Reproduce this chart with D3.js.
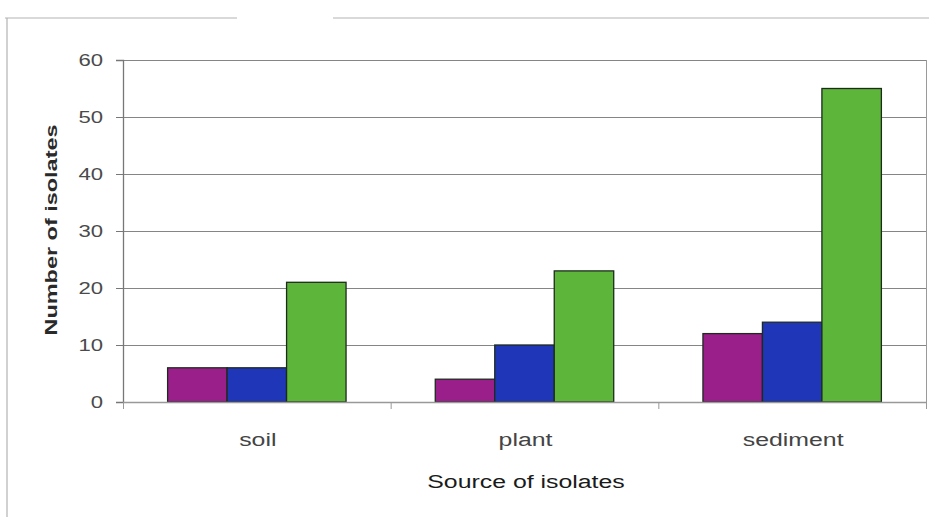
<!DOCTYPE html>
<html>
<head>
<meta charset="utf-8">
<script src="https://cdn.jsdelivr.net/npm/d3@7"></script>
<style>
  html, body { margin: 0; padding: 0; background: #fff; }
  svg { display: block; font-family: "Liberation Sans", Arial, sans-serif; }
</style>
</head>
<body>
<svg id="chart" width="929" height="517"></svg>
<script>
// Isolates counted per source, one series per colour group
const categories = ["soil", "plant", "sediment"];
const seriesMagenta = [6, 4, 12];
const seriesBlue = [6, 10, 14];
const seriesGreen = [21, 23, 55];
const yTicks = [0, 10, 20, 30, 40, 50, 60];

const seriesColors = ["#9b1f8a", "#1f36b8", "#5db53a"];
const seriesData = [seriesMagenta, seriesBlue, seriesGreen];

// Text is drawn slightly widened, as in the original layout
const WIDEN = 1.38;

const svg = d3.select("#chart");
const plot = { left: 123, right: 926, top: 60, bottom: 402 };

// Outer chart frame (left and top edges)
const frame = svg.append("g").attr("stroke", "#b3b3b3").attr("stroke-width", 1.2);
frame.append("line").attr("x1", 7).attr("y1", 18).attr("x2", 7).attr("y2", 517);
frame.append("line").attr("x1", 5).attr("y1", 18).attr("x2", 237).attr("y2", 18);
frame.append("line").attr("x1", 333).attr("y1", 18).attr("x2", 929).attr("y2", 18);

const x = d3.scaleBand().domain(categories).range([plot.left, plot.right]).paddingInner(0).paddingOuter(0);
const y = d3.scaleLinear().domain([0, 60]).range([plot.bottom, plot.top]);
const inner = d3.scaleBand().domain(d3.range(seriesData.length))
  .range([0, x.bandwidth()]).paddingOuter(0.75).paddingInner(0);

// Horizontal gridlines
svg.append("g").selectAll("line").data(yTicks.filter(d => d > 0)).join("line")
  .attr("x1", plot.left).attr("x2", plot.right)
  .attr("y1", d => y(d) + 0.5).attr("y2", d => y(d) + 0.5)
  .attr("stroke", "#858585").attr("stroke-width", 1.1);

// Right edge of plot area
svg.append("line").attr("x1", plot.right + 0.5).attr("x2", plot.right + 0.5)
  .attr("y1", plot.top).attr("y2", plot.bottom)
  .attr("stroke", "#9a9a9a");

// Bars
const groups = svg.append("g").selectAll("g").data(categories).join("g")
  .attr("transform", d => `translate(${x(d)},0)`);
groups.selectAll("rect")
  .data((c, ci) => seriesData.map((s, si) => ({ si, v: s[ci] })))
  .join("rect")
  .attr("x", d => inner(d.si))
  .attr("width", inner.bandwidth())
  .attr("y", d => y(d.v))
  .attr("height", d => y(0) - y(d.v))
  .attr("fill", d => seriesColors[d.si])
  .attr("stroke", "#1e2a1e").attr("stroke-width", 1.3);

// Y axis
const yAxis = svg.append("g").attr("transform", `translate(${plot.left},0)`)
  .call(d3.axisLeft(y).tickValues(yTicks).tickSize(7).tickPadding(0));
yAxis.select(".domain").attr("stroke", "#777").attr("stroke-width", 1.3);
yAxis.selectAll(".tick line").attr("stroke", "#777");
yAxis.selectAll(".tick text")
  .attr("font-size", 16).attr("fill", "#4a4a4a")
  .attr("font-family", "Liberation Sans, Arial, sans-serif")
  .attr("x", 0)
  .attr("transform", `translate(-20,0) scale(${WIDEN},1)`);

// X axis with ticks at category boundaries
const xAxisG = svg.append("g").attr("transform", `translate(0,${plot.bottom})`);
xAxisG.append("line").attr("x1", plot.left).attr("x2", plot.right + 1)
  .attr("y1", 0.5).attr("y2", 0.5).attr("stroke", "#999").attr("stroke-width", 1.6);
const bounds = categories.map(c => x(c)).concat([x.range()[1]]);
xAxisG.selectAll("line.tk").data(bounds).join("line").attr("class", "tk")
  .attr("x1", d => d + 0.5).attr("x2", d => d + 0.5)
  .attr("y1", 0).attr("y2", 7).attr("stroke", "#999");
xAxisG.selectAll("text").data(categories).join("text")
  .attr("transform", d => `translate(${x(d) + x.bandwidth() / 2 + 1},44) scale(${WIDEN},1)`)
  .attr("text-anchor", "middle").attr("font-size", 18).attr("fill", "#444")
  .text(d => d);

// Axis titles
svg.append("text")
  .attr("transform", `translate(526,488) scale(${WIDEN},1)`)
  .attr("text-anchor", "middle").attr("font-size", 18).attr("fill", "#1a1a1a")
  .text("Source of isolates");
svg.append("text")
  .attr("transform", `translate(57,230) rotate(-90) scale(${WIDEN},1)`)
  .attr("text-anchor", "middle").attr("font-size", 17).attr("font-weight", "bold")
  .attr("fill", "#2a2a2a")
  .text("Number of isolates");
</script>
</body>
</html>
